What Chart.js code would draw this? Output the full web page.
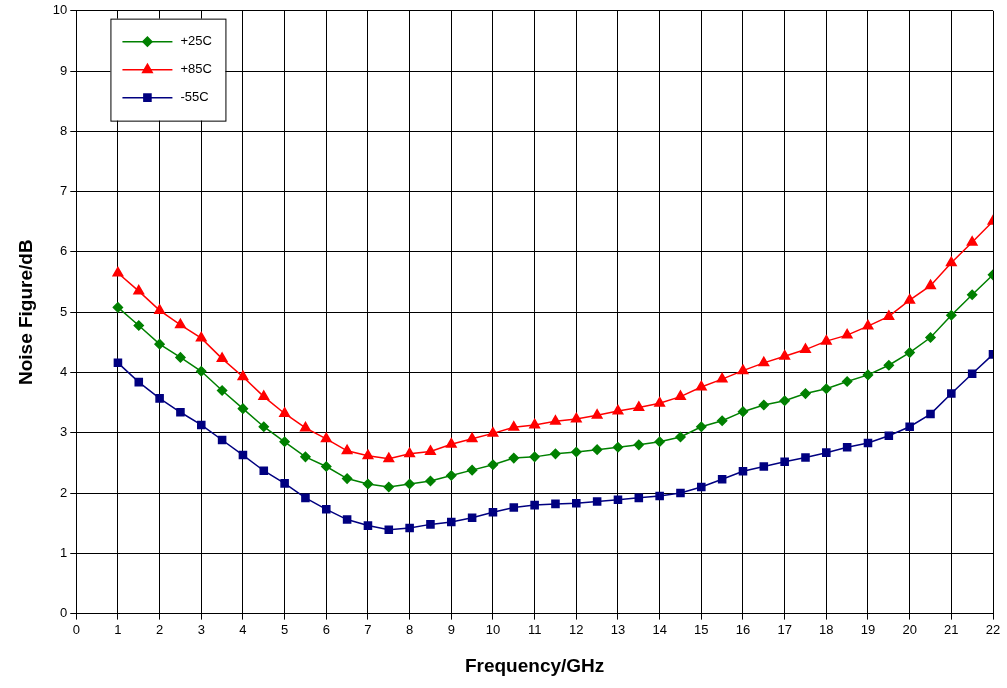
<!DOCTYPE html>
<html>
<head>
<meta charset="utf-8">
<script src="https://cdn.jsdelivr.net/npm/chart.js@4/dist/chart.umd.min.js"></script>
<style>
  body { margin: 0; background: #fff; }
  #wrap { width: 1007px; height: 688px; }
</style>
</head>
<body>
<div id="wrap"><canvas id="myChart"></canvas></div>
<script>
const freqs = [1,1.5,2,2.5,3,3.5,4,4.5,5,5.5,6,6.5,7,7.5,8,8.5,9,9.5,10,10.5,11,11.5,12,12.5,13,13.5,14,14.5,15,15.5,16,16.5,17,17.5,18,18.5,19,19.5,20,20.5,21,21.5,22];
const nf25 = [5.08,4.78,4.47,4.25,4.02,3.7,3.4,3.1,2.85,2.6,2.44,2.24,2.15,2.1,2.15,2.2,2.29,2.38,2.47,2.58,2.6,2.65,2.68,2.72,2.76,2.8,2.85,2.93,3.1,3.2,3.35,3.46,3.53,3.65,3.73,3.85,3.96,4.12,4.33,4.58,4.95,5.29,5.62];
const nf85 = [5.65,5.35,5.03,4.79,4.57,4.23,3.93,3.6,3.32,3.08,2.9,2.7,2.62,2.57,2.65,2.69,2.81,2.9,2.99,3.09,3.13,3.19,3.23,3.29,3.36,3.42,3.49,3.6,3.76,3.89,4.03,4.16,4.27,4.38,4.52,4.62,4.77,4.93,5.2,5.44,5.82,6.16,6.51];
const nfm55 = [4.16,3.84,3.57,3.34,3.13,2.88,2.63,2.37,2.16,1.92,1.73,1.56,1.46,1.39,1.42,1.48,1.52,1.59,1.68,1.76,1.8,1.82,1.83,1.86,1.89,1.92,1.95,2.0,2.1,2.23,2.36,2.44,2.52,2.59,2.67,2.76,2.83,2.95,3.1,3.31,3.65,3.98,4.3];
const seriesNames = ['+25C', '+85C', '-55C'];

const pts = arr => arr.map((v, i) => ({ x: freqs[i], y: v }));

// legend box drawn inside the plot area, top-left
const boxLegend = {
  id: 'boxLegend',
  afterDraw(chart) {
    const { ctx, scales: { x, y } } = chart;
    const left = x.getPixelForValue(0.82), top = y.getPixelForValue(9.87);
    const w = 115, h = 102;
    ctx.save();
    ctx.fillStyle = '#fff';
    ctx.fillRect(left, top, w, h);
    ctx.strokeStyle = '#000'; ctx.lineWidth = 1;
    ctx.strokeRect(left + 0.5, top + 0.5, w, h);
    ctx.font = '13px "Liberation Sans", Arial, sans-serif';
    ctx.textBaseline = 'middle';
    chart.data.datasets.forEach((ds, i) => {
      const cy = top + 23 + i * 28;
      ctx.strokeStyle = ds.borderColor; ctx.lineWidth = 1.5;
      ctx.beginPath(); ctx.moveTo(left + 12, cy); ctx.lineTo(left + 62, cy); ctx.stroke();
      Chart.helpers.drawPoint(ctx, { pointStyle: ds.pointStyle, radius: ds.pointRadius, rotation: ds.pointRotation || 0, borderWidth: 1 }, left + 37, cy);
      ctx.fillStyle = ds.pointBackgroundColor;
      Chart.helpers.drawPoint(ctx, { pointStyle: ds.pointStyle, radius: ds.pointRadius, rotation: ds.pointRotation || 0, borderWidth: 0 }, left + 37, cy);
      ctx.fillStyle = '#000';
      ctx.fillText(ds.label, left + 70, cy);
    });
    ctx.restore();
  }
};

const mk = (label, data, color, style, r, rot) => ({
  label, data: pts(data), borderColor: color, backgroundColor: color,
  pointBackgroundColor: color, pointBorderColor: color, pointStyle: style,
  pointRadius: r, pointRotation: rot || 0, borderWidth: 1.5, tension: 0
});

new Chart(document.getElementById('myChart'), {
  type: 'line',
  data: {
    datasets: [
      mk(seriesNames[0], nf25, '#008000', 'rectRot', 4.5),
      mk(seriesNames[1], nf85, '#ff0000', 'triangle', 5.5),
      mk(seriesNames[2], nfm55, '#000080', 'rect', 5)
    ]
  },
  options: {
    responsive: true, maintainAspectRatio: false, animation: false,
    layout: { padding: { top: 10, right: 14, left: 11, bottom: 6 } },
    plugins: { legend: { display: false }, tooltip: { enabled: false } },
    scales: {
      x: {
        type: 'linear', min: 0, max: 22,
        ticks: { stepSize: 1, color: '#000', font: { size: 13, family: '"Liberation Sans", Arial' } },
        grid: { color: '#000', lineWidth: 1, tickLength: 6 },
        border: { color: '#000' },
        title: { display: true, text: 'Frequency/GHz', color: '#000', font: { size: 19, weight: 'bold', family: '"Liberation Sans", Arial' }, padding: { top: 14 } }
      },
      y: {
        min: 0, max: 10,
        ticks: { stepSize: 1, color: '#000', font: { size: 13, family: '"Liberation Sans", Arial' } },
        grid: { color: '#000', lineWidth: 1, tickLength: 6 },
        border: { color: '#000' },
        title: { display: true, text: 'Noise Figure/dB', color: '#000', font: { size: 19, weight: 'bold', family: '"Liberation Sans", Arial' }, padding: { bottom: 12 } }
      }
    }
  },
  plugins: [boxLegend]
});
</script>
</body>
</html>
